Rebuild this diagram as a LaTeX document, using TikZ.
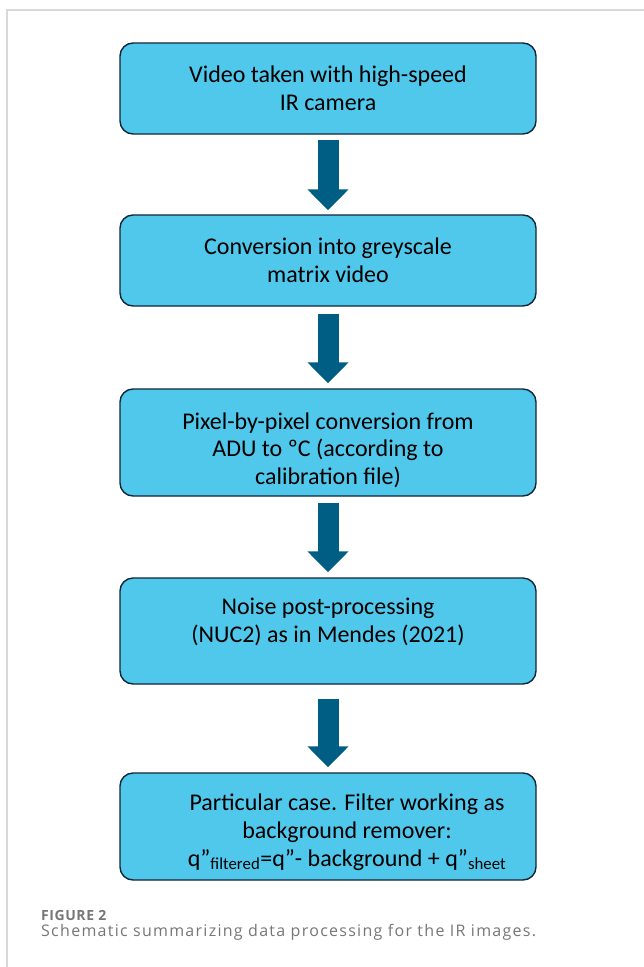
\documentclass[tikz,border=0pt]{standalone}
\usepackage{fontspec}
\setmainfont{Carlito}
\newfontfamily\capfont[LetterSpace=8]{Open Sans}
\newfontfamily\figfont[LetterSpace=4]{Open Sans}
\usepackage{tikz}
\usepackage{xcolor}
\usetikzlibrary{arrows.meta}
\usetikzlibrary{positioning}
\definecolor{boxfill}{RGB}{80,200,236}
\definecolor{boxline}{RGB}{16,38,58}
\definecolor{arrowblue}{RGB}{0,94,132}
\definecolor{capgray}{RGB}{118,118,118}
\tikzstyle{stepbox} = [rectangle, rounded corners=13pt, minimum width=416pt, minimum height=91pt, text centered, align=center, draw=boxline, line width=1.4pt, fill=boxfill, font=\fontsize{24}{27.8}\selectfont]
\tikzstyle{arrow} = [draw=arrowblue, line width=21pt, -{Triangle[width=40pt,length=21pt]}]
\tikzstyle{frame} = [draw=black!15, line width=1.3pt]

\begin{document}
\begin{tikzpicture}[x=1pt, y=1pt, node distance=172pt]
        \useasboundingbox (0,0) rectangle (644,-967);
        \draw [frame] (7,-967) -- (7,-10) -- (644,-10);

        \node (video) [stepbox] at (328,-88.5) {Video taken with high-speed\\ IR camera};
        \node (grey) [stepbox, below of=video] {Conversion into greyscale\\ matrix video};
        \node (pixel) [stepbox, below of=grey, yshift=-10pt, minimum height=107pt] {\rule{0pt}{32pt}Pixel-by-pixel conversion from\\ ADU to ºC (according to\\ calibration file)};
        \node (noise) [stepbox, below of=pixel, yshift=-16.5pt, minimum height=106pt] {Noise post-processing\\ (NUC2) as in Mendes (2021)\rule[-21pt]{0pt}{21pt}};
        \node (filter) [stepbox, below of=noise, yshift=-23.5pt, minimum height=107pt] {\hspace*{38pt}\rule{0pt}{28pt}Particular case. Filter working as\\ \hspace*{38pt}background remover:\\ \hspace*{38pt}q''\textsubscript{filtered}=q''- background + q''\textsubscript{sheet}};

        \draw [arrow, shorten <=5pt, shorten >=4pt] (video) -- (grey);
        \draw [arrow, shorten <=7pt, shorten >=5pt] (grey) -- (pixel);
        \draw [arrow, shorten <=6pt, shorten >=5pt] (pixel) -- (noise);
        \draw [arrow, shorten <=14pt, shorten >=5pt] (noise) -- (filter);

        \node (fig) [anchor=base west, text=capgray, font=\figfont\bfseries\fontsize{14}{16}\selectfont, inner sep=0pt] at (41,-920) {FIGURE 2};
        \node (caption) [anchor=base west, text=capgray, font=\capfont\fontsize{16}{18}\selectfont, inner sep=0pt] at (41,-936.5) {Schematic summarizing data processing for the IR images.};

    \end{tikzpicture}
\end{document}
